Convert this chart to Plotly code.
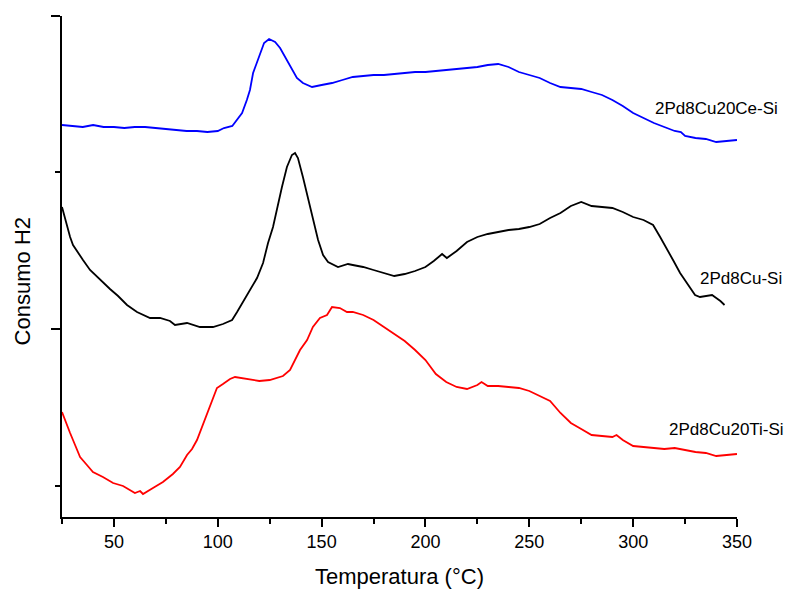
import plotly.graph_objects as go

# Temperatures (°C) and H2 consumption signals (arbitrary units, offset per sample)
temp_ce = [25, 30, 35, 40, 45, 50, 55, 60, 65, 70, 75, 80, 85, 90, 95, 100, 103, 107, 109.3,
           111.7, 114, 115.5, 117, 119, 120, 122.3, 124.7, 127.6, 130, 132.4, 134.8, 138.1,
           141, 145.4, 150, 155, 160, 165, 170, 175, 180, 185, 190, 195, 200, 205, 210, 215,
           220, 225, 230, 235, 240, 245, 250, 255, 260, 265, 270, 275, 280, 285, 290, 295,
           300, 305, 310, 315, 320, 323, 325, 330, 335, 340, 345, 350]
sig_ce = [392, 391, 390, 392, 390, 390, 389, 390, 390, 389, 388, 387, 386, 386, 385, 386,
          389, 391, 397, 404, 417, 427, 444, 455, 460, 474, 478, 475, 469, 460, 450, 439,
          434, 430, 432, 434, 437, 440, 441, 442, 442, 443, 444, 445, 445, 446, 447, 448,
          449, 450, 452, 453, 450, 445, 442, 439, 434, 430, 429, 428, 425, 422, 417, 411,
          404, 399, 394, 390, 386, 385, 381, 379, 378, 375, 376, 377]

temp_cu = [25, 26.4, 27.4, 28.9, 30.3, 32.7, 35.1, 38.5, 41.9, 44.7, 48.1, 52, 56.3, 61.1,
           67.4, 72.2, 77, 79.4, 85.2, 91.4, 97.7, 102.5, 106.9, 109.3, 112.1, 115.5, 118.9,
           121.8, 124.2, 126.6, 129, 130.9, 133.3, 135.7, 137.2, 138.6, 141, 143.4, 145.8,
           148.3, 150.7, 153.1, 157.9, 162.7, 165, 170, 175, 180, 185, 190, 195, 200, 204,
           208, 210.3, 215, 220, 225, 230, 235, 240, 245, 250, 255, 260, 265, 270, 275, 280,
           285, 290, 295, 300, 305, 309.6, 313, 316.3, 319.2, 322.6, 325.9, 329.8, 332.2,
           335, 338, 340, 342, 344]
sig_cu = [310, 299, 290, 280, 272, 264, 257, 247, 240, 234, 228, 221, 212, 205, 199, 199,
          196, 192, 194, 190, 190, 193, 197, 205, 215, 227, 239, 254, 274, 290, 314, 330,
          350, 362, 364, 359, 340, 320, 297, 277, 262, 255, 250, 253, 252, 250, 247, 244,
          241, 243, 246, 250, 256, 263, 259, 266, 275, 280, 283, 285, 287, 288, 290, 293,
          299, 304, 311, 315, 311, 310, 309, 305, 300, 297, 292, 280, 267, 257, 244, 234,
          222, 220, 221, 222, 219, 216, 212]

temp_ti = [25, 26.4, 28.9, 31.3, 33.7, 37, 39.9, 44.7, 49.6, 54.4, 57.7, 60.1, 62.6, 64,
           68.8, 73.6, 78.4, 81.8, 85.2, 87.6, 90, 92.4, 94.8, 97.2, 99.6, 102.5, 105.9,
           108.3, 115, 120, 125, 131.4, 134.8, 137.2, 139.6, 143, 145.8, 149.2, 152.6, 155,
           158.8, 162.2, 165, 170, 175, 180, 185, 190, 195, 200, 205, 210, 215, 220, 225, 227,
           230, 235, 240, 245, 250, 255, 260, 265, 270, 275, 280, 285, 290, 292, 295, 300,
           305, 310, 315, 320, 325, 330, 335, 340, 345, 350]
sig_ti = [105, 97, 84, 72, 60, 52, 45, 40, 34, 31, 27, 24, 26, 23, 29, 35, 43, 50, 62, 68,
          77, 90, 104, 117, 129, 133, 138, 140, 138, 136, 137, 141, 147, 157, 167, 177, 190,
          199, 202, 210, 209, 205, 205, 202, 197, 190, 183, 176, 167, 157, 143, 135, 130,
          128, 132, 135, 131, 131, 130, 129, 126, 121, 116, 104, 94, 88, 82, 81, 80, 82, 77,
          71, 70, 69, 68, 69, 67, 65, 64, 61, 62, 63]

labels = ["2Pd8Cu20Ce-Si", "2Pd8Cu-Si", "2Pd8Cu20Ti-Si"]
label_pos_t = [309.5, 331.0, 316.5]
label_pos_s = [409, 239, 88]
colors = ["#0000ff", "#000000", "#ff0000"]

x_ticks = [50, 100, 150, 200, 250, 300, 350]

FONT = "Liberation Sans, Arial, sans-serif"

fig = go.Figure()
for t, s, c, name in zip([temp_ce, temp_cu, temp_ti], [sig_ce, sig_cu, sig_ti], colors, labels):
    fig.add_trace(go.Scatter(x=t, y=s, mode="lines", name=name,
                             line=dict(color=c, width=1.8), showlegend=False))

for name, tx, sy in zip(labels, label_pos_t, label_pos_s):
    fig.add_annotation(x=tx, y=sy, xref="x", yref="y", text=name, showarrow=False,
                       xanchor="left", yanchor="middle",
                       font=dict(family=FONT, size=17, color="black"))

fig.add_annotation(x=0.5, y=-0.118, xref="paper", yref="paper", text="Temperatura (°C)",
                   showarrow=False, xanchor="center", yanchor="middle",
                   font=dict(family=FONT, size=22, color="black"))
fig.add_annotation(x=-0.058, y=0.47, xref="paper", yref="paper", text="Consumo H2",
                   showarrow=False, xanchor="center", yanchor="middle", textangle=-90,
                   font=dict(family=FONT, size=22, color="black"))

fig.update_layout(
    width=785, height=590,
    margin=dict(l=62, r=48, t=16, b=73),
    paper_bgcolor="white", plot_bgcolor="white",
    font=dict(family=FONT, color="black"),
    xaxis=dict(range=[25, 350], tickmode="array", tickvals=x_ticks,
               ticks="outside", ticklen=8, tickwidth=1.5, tickcolor="black",
               showline=True, linecolor="black", linewidth=1.5, showgrid=False,
               zeroline=False, tickfont=dict(family=FONT, size=18, color="black"),
               minor=dict(tick0=25, dtick=50, ticks="outside", ticklen=5,
                          tickwidth=1.5, tickcolor="black", showgrid=False)),
    yaxis=dict(range=[0, 501], tickmode="array", tickvals=[188, 501],
               showticklabels=False,
               ticks="outside", ticklen=9, tickwidth=1.5, tickcolor="black",
               showline=True, linecolor="black", linewidth=1.5, showgrid=False,
               zeroline=False,
               minor=dict(tickvals=[31, 345], ticks="outside", ticklen=5,
                          tickwidth=1.5, tickcolor="black", showgrid=False)),
)

fig.write_html("out.html")
